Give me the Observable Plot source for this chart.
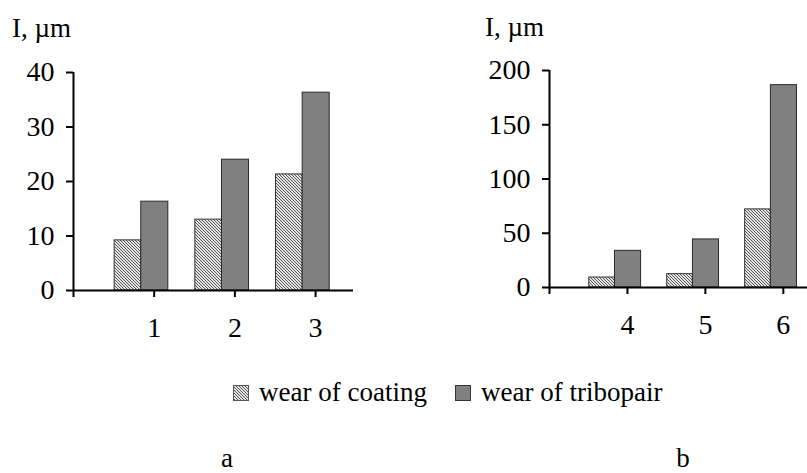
<!DOCTYPE html>
<html>
<head>
<meta charset="utf-8">
<script src="https://cdn.jsdelivr.net/npm/d3@7"></script>
<script src="https://cdn.jsdelivr.net/npm/@observablehq/plot@0.6"></script>
<style>
  html, body { margin: 0; padding: 0; background: #fff; }
  #wrap { position: relative; width: 807px; height: 473px; overflow: hidden; font-family: 'Liberation Serif', serif; }
  #wrap > .panel { position: absolute; top: 0; }
  #overlay { position: absolute; left: 0; top: 0; width: 807px; height: 473px; pointer-events: none; }
</style>
</head>
<body>
<div id="wrap">
  <svg width="0" height="0" style="position:absolute">
    <defs>
      <pattern id="hatch" patternUnits="userSpaceOnUse" width="3" height="3">
        <rect width="3" height="3" fill="#e6e6e6"></rect>
        <path d="M-1,-1 L4,4 M-1,2 L1,4 M2,-1 L4,1" stroke="#444" stroke-width="0.9"></path>
      </pattern>
    </defs>
  </svg>
</div>
<script>
// ---- data ----
const seriesNames = ["wear of coating", "wear of tribopair"];
const yLabel = "I, µm";
const panelLabels = ["a", "b"];

const catsA = [1, 2, 3];
const coatingA = [9.2, 13.0, 21.3];
const tribopairA = [16.3, 24.0, 36.3];
const yTicksA = [0, 10, 20, 30, 40];

const catsB = [4, 5, 6];
const coatingB = [9.2, 12.3, 72.0];
const tribopairB = [33.8, 44.3, 186.5];
const yTicksB = [0, 50, 100, 150, 200];

// ---- build ----
const FONT = "'Liberation Serif', serif";
const offsets = {coating: [-0.49, -0.16], tribopair: [-0.16, 0.175]};

function rows(cats, vals) { return cats.map((c, i) => ({cat: c, value: vals[i]})); }

function panel({cats, coating, tribopair, yTicks, yMax, xDomain, width, marginLeft, marginTop, marginBottom}) {
  const coatRows = rows(cats, coating);
  const triboRows = rows(cats, tribopair);
  const axisStart = xDomain[0];
  return Plot.plot({
    width, height: 340,
    marginLeft, marginRight: 0, marginTop, marginBottom,
    x: {type: "linear", domain: xDomain, axis: null},
    y: {domain: [0, yMax], axis: null},
    style: {fontFamily: FONT, color: "#000", background: "transparent", overflow: "visible"},
    marks: [
      Plot.rectY(coatRows, {
        x1: d => d.cat + offsets.coating[0], x2: d => d.cat + offsets.coating[1],
        y1: 0, y2: "value", fill: "url(#hatch)", stroke: "#333", strokeWidth: 1, inset: 0
      }),
      Plot.rectY(triboRows, {
        x1: d => d.cat + offsets.tribopair[0], x2: d => d.cat + offsets.tribopair[1],
        y1: 0, y2: "value", fill: "#808080", stroke: "#2a2a2a", strokeWidth: 1, inset: 0
      }),
      Plot.axisY({ticks: yTicks, tickSize: 7, tickPadding: 12, fontSize: 28, strokeWidth: 2, label: null, tickFormat: d => String(d)}),
      Plot.axisX({ticks: [axisStart, ...cats], tickSize: 7, tickPadding: 20, fontSize: 28, strokeWidth: 2, label: null,
                  tickFormat: d => d === axisStart ? "" : String(d)}),
      Plot.ruleX([axisStart], {strokeWidth: 2}),
      Plot.ruleY([0], {strokeWidth: 2})
    ]
  });
}

const wrap = document.getElementById("wrap");

const pA = panel({cats: catsA, coating: coatingA, tribopair: tribopairA, yTicks: yTicksA, yMax: 40,
  xDomain: [0, 3.47], width: 353, marginLeft: 73, marginTop: 72, marginBottom: 50});
pA.classList.add("panel"); pA.style.left = "0px";
wrap.appendChild(pA);

const pB = panel({cats: catsB, coating: coatingB, tribopair: tribopairB, yTicks: yTicksB, yMax: 200,
  xDomain: [3, 6.31], width: 407, marginLeft: 149, marginTop: 70, marginBottom: 53});
pB.classList.add("panel"); pB.style.left = "400px";
wrap.appendChild(pB);

// ---- overlay texts & legend ----
const ov = d3.select(wrap).append("svg").attr("id", "overlay").attr("width", 807).attr("height", 473)
  .style("font-family", FONT);

ov.append("text").attr("x", 12).attr("y", 37).attr("font-size", 27).text(yLabel);
ov.append("text").attr("x", 485).attr("y", 36).attr("font-size", 27).text(yLabel);

const legendItems = [
  {name: seriesNames[0], fill: "url(#hatch)", stroke: "#555", x: 233},
  {name: seriesNames[1], fill: "#808080", stroke: "#333", x: 455}
];
legendItems.forEach(it => {
  ov.append("rect").attr("x", it.x + 0.5).attr("y", 385.5).attr("width", 15).attr("height", 15)
    .attr("fill", it.fill).attr("stroke", it.stroke).attr("stroke-width", 1);
  ov.append("text").attr("x", it.x + 26).attr("y", 401).attr("font-size", 27).text(it.name);
});

ov.append("text").attr("x", 227).attr("y", 467).attr("font-size", 27).attr("text-anchor", "middle").text(panelLabels[0]);
ov.append("text").attr("x", 683).attr("y", 467).attr("font-size", 27).attr("text-anchor", "middle").text(panelLabels[1]);
</script>
</body>
</html>
